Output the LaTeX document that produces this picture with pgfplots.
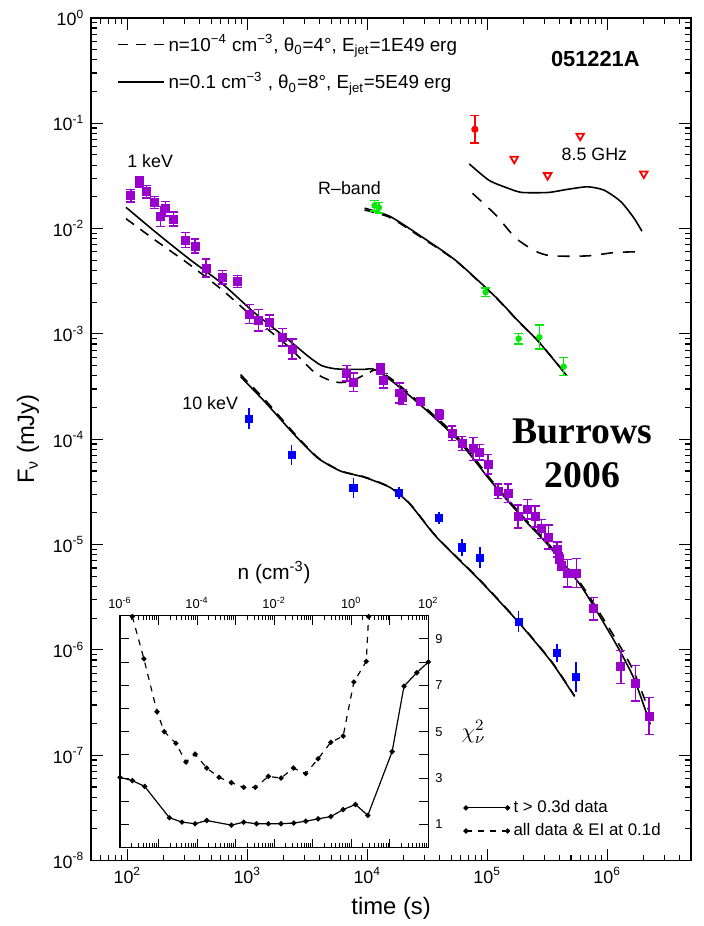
\documentclass[border=0pt]{standalone}
\usepackage{pgfplots}
\pgfplotsset{compat=1.18}
\usepackage{fontspec}
\setmainfont{Liberation Sans}
\newfontfamily\serifbold{Liberation Serif}
\definecolor{xpurple}{RGB}{153,0,204}
\definecolor{xblue}{RGB}{0,0,255}
\definecolor{xgreen}{RGB}{0,235,0}
\definecolor{xred}{RGB}{255,0,0}
\begin{document}
\begin{tikzpicture}
\begin{axis}[
  name=main,
  scale only axis, width=302.5pt, height=425pt,
  xmode=log, ymode=log,
  xmin=50, xmax=5e6, ymin=1e-8, ymax=1,
  axis line style={line width=0.9pt},
  every tick/.style={black, line width=0.6pt},
  major tick length=6pt, minor tick length=3pt,
  xtick pos=both, ytick pos=both,
  tick label style={font=\fontsize{9}{10}\selectfont},
  log number format basis/.code 2 args={#1\textsuperscript{\pgfmathprintnumber[assume math mode=true,int detect]{#2}}},
  xlabel={time (s)}, ylabel={F\textsubscript{ν} (mJy)},
  label style={font=\fontsize{12}{14}\selectfont},
  legend style={at={(0.033,0.99)}, anchor=north west, draw=none, fill=none,
    font=\fontsize{9.5}{11}\selectfont, row sep=5pt},
  legend cell align=left,
  legend image code/.code={\draw[#1] (0pt,0pt) -- (23pt,0pt);},
]
% ---- 1 keV models (legend) ----
\addplot[black, line width=0.8pt, dash pattern=on 5pt off 4pt, smooth, tension=0.4] table {
97.5 0.0124
175 0.0076
330 0.00455
621 0.0026
1167 0.00138
2197 0.00076
3640 0.00043
5000 0.000358
6000 0.000345
7500 0.00036
10000 0.00042
12000 0.000455
16600 0.00036
31200 0.000195
58600 0.0001
110000 0.00004
207000 0.0000175
323000 0.0000102
607000 0.0000042
1140000 0.00000135
1670000 0.00000062
2400000 0.00000021
};
\addlegendentry{n=10\textsuperscript{−4} cm\textsuperscript{−3}, θ\textsubscript{0}=4°, E\textsubscript{jet}=1E49 erg}
\addplot[black, line width=0.8pt, smooth, tension=0.4] table {
97.5 0.0159
175 0.0091
330 0.00511
621 0.00298
1167 0.00156
2197 0.00088
3210 0.000614
4130 0.000502
5320 0.000467
7000 0.000460
9400 0.000460
11400 0.00046
16600 0.000346
31200 0.000188
58600 0.000095
110000 0.0000386
207000 0.0000169
323000 0.00000986
607000 0.00000402
1140000 0.00000123
1670000 0.000000536
2290000 0.000000196
};
\addlegendentry{n=0.1 cm\textsuperscript{−3} , θ\textsubscript{0}=8°, E\textsubscript{jet}=5E49 erg}
% ---- 10 keV models ----
\addplot[forget plot, black, line width=0.8pt, smooth, tension=0.4] table {
879 3.93e-4
1413 2.24e-4
2494 1.09e-4
3874 6.62e-5
6025 4.97e-5
9397 4.36e-5
15560 3.47e-5
22700 2.42e-5
37700 1.18e-5
85700 4.63e-6
183000 1.82e-6
343000 7.69e-7
535000 3.61e-7
};
\addplot[forget plot, black, line width=0.8pt, dash pattern=on 5pt off 4pt, smooth, tension=0.4] table {
879 4.1e-4
1413 2.35e-4
2494 1.12e-4
3874 6.7e-5
6025 5.0e-5
9397 4.4e-5
15560 3.5e-5
22700 2.44e-5
37700 1.19e-5
85700 4.7e-6
183000 1.84e-6
343000 7.8e-7
535000 3.65e-7
};
% ---- R-band models ----
\addplot[forget plot, black, line width=0.8pt, smooth, tension=0.4] table {
9500 0.0156
15560 0.0130
29300 0.00817
55100 0.00494
117500 0.00224
183000 0.00131
267000 0.000849
457000 0.000405
};
\addplot[forget plot, black, line width=0.8pt, dash pattern=on 5pt off 4pt, smooth, tension=0.4] table {
9500 0.0150
15560 0.0127
29300 0.0080
55100 0.00490
117500 0.00222
183000 0.00130
267000 0.00085
457000 0.00041
};
% ---- 8.5 GHz models ----
\addplot[forget plot, black, line width=0.8pt, smooth, tension=0.4] table {
70800 0.0411
103500 0.0287
151000 0.0240
195000 0.0220
323000 0.0220
472000 0.0236
689000 0.0249
945000 0.0231
1300000 0.0180
1670000 0.0126
1950000 0.00944
};
\addplot[forget plot, black, line width=0.8pt, dash pattern=on 6pt off 5pt, smooth, tension=0.4] table {
75400 0.0216
117500 0.0135
172000 0.00817
251000 0.00612
343000 0.0055
689000 0.0055
1140000 0.00591
1910000 0.00604
};
% ---- 1 keV data ----
\addplot[forget plot, only marks, mark=square*, mark size=2pt, color=xpurple,
  error bars/.cd, y dir=both, y explicit relative,
  error bar style={line width=0.7pt, xpurple},
  error mark options={rotate=90, mark size=2.2pt, line width=0.7pt, xpurple}]
  table[x=t, y=f, y error plus expr={10^(\thisrow{d})-1}, y error minus expr={1-10^(-\thisrow{d})}] {
t f d
107 0.0205 0.059
125.5 0.0277 0.047
145 0.0223 0.059
168 0.0177 0.055
189 0.0130 0.094
207 0.0154 0.067
242 0.0123 0.066
304 0.00777 0.073
367 0.00682 0.067
453 0.00422 0.086
621 0.00345 0.066
830 0.00314 0.055
1042 0.00154 0.089
1244 0.00135 0.103
1532 0.00129 0.070
1959 0.00093 0.084
2366 0.000719 0.094
6760 0.000423 0.073
7670 0.000348 0.086
12880 0.000461 0.052
13700 0.000358 0.069
18600 0.000275 0.094
19800 0.000250 0.07
27500 0.000230 0.03
39600 0.000172 0.047
51000 0.000114 0.067
61700 0.0000915 0.067
76400 0.000081 0.109
86700 0.000075 0.072
101600 0.000058 0.094
123000 0.000032 0.069
149000 0.0000307 0.087
181000 0.0000184 0.109
217000 0.0000217 0.094
251000 0.0000184 0.10
285000 0.0000141 0.09
323000 0.0000118 0.114
383000 0.00000897 0.07
397000 0.0000074 0.05
416000 0.00000641 0.05
466000 0.00000535 0.13
552000 0.00000535 0.137
767000 0.00000246 0.106
1300000 0.00000069 0.156
1720000 0.000000482 0.169
2240000 0.000000235 0.175
};
% ---- 10 keV data ----
\addplot[forget plot, only marks, mark=square*, mark size=1.8pt, color=xblue,
  error bars/.cd, y dir=both, y explicit relative, error mark=none,
  error bar style={line width=0.8pt, xblue}]
  table[x=t, y=f, y error plus expr={10^(\thisrow{d})-1}, y error minus expr={1-10^(-\thisrow{d})}] {
t f d
1028 1.57e-4 0.098
2339 7.11e-5 0.097
7670 3.42e-5 0.094
18300 3.11e-5 0.058
39600 1.79e-5 0.058
61700 9.4e-6 0.078
87300 7.5e-6 0.10
183000 1.85e-6 0.10
383000 9.3e-7 0.084
552000 5.5e-7 0.14
};
% ---- R-band data ----
\addplot[forget plot, only marks, mark=*, mark size=1.4pt, color=xgreen,
  error bars/.cd, y dir=both, y explicit relative,
  error bar style={line width=0.7pt, xgreen},
  error mark options={rotate=90, mark size=2.2pt, line width=0.7pt, xgreen}]
  table[x=t, y=f, y error plus expr={10^(\thisrow{d})-1}, y error minus expr={1-10^(-\thisrow{d})}] {
t f d
11500 0.0165 0.05
12500 0.0158 0.05
97000 0.00249 0.04
183000 0.00090 0.052
272000 0.00093 0.114
434000 0.000488 0.086
};
% ---- 8.5 GHz data ----
\addplot[forget plot, only marks, mark=*, mark size=1.6pt, color=xred,
  error bars/.cd, y dir=both, y explicit relative,
  error bar style={line width=0.7pt, xred},
  error mark options={rotate=90, mark size=2.2pt, line width=0.7pt, xred}]
  table[x=t, y=f, y error plus expr={10^(\thisrow{d})-1}, y error minus expr={1-10^(-\thisrow{d})}] {
t f d
78900 0.0875 0.13
};
\addplot[forget plot, only marks, mark=triangle, mark size=2.2pt, color=xred,
  mark options={rotate=180, fill=white, line width=0.9pt}] table {
168000 0.0458
319000 0.032
596000 0.0757
2020000 0.0332
};
% ---- labels ----
\node[font=\fontsize{9}{10}\selectfont] at (axis cs:155,0.0432) {1 keV};
\node[font=\fontsize{9}{10}\selectfont, anchor=west, inner sep=0pt] at (axis cs:3874,0.024) {R–band};
\node[font=\fontsize{9}{10}\selectfont] at (axis cs:491,2.18e-4) {10 keV};
\node[font=\fontsize{9}{10}\selectfont] at (axis cs:7.82e5,0.0503) {8.5 GHz};
\node[font=\bfseries\fontsize{11}{12}\selectfont] at (axis cs:7.96e5,0.403) {051221A};
\node[font=\serifbold\bfseries\fontsize{19}{22}\selectfont] at (axis cs:6.22e5,1.19e-4) {Burrows};
\node[font=\serifbold\bfseries\fontsize{19}{22}\selectfont] at (axis cs:6.22e5,4.58e-5) {2006};
\coordinate (insetSW) at (rel axis cs:0.048,0.0153);
\end{axis}
\begin{axis}[
  at={(insetSW)}, anchor=south west,
  scale only axis, width=155.5pt, height=117pt,
  xmode=log, xmin=1e-6, xmax=100, ymin=0, ymax=10,
  axis background/.style={fill=white},
  axis line style={line width=0.8pt},
  every tick/.style={black, line width=0.5pt},
  major tick length=4.5pt, minor tick length=2.2pt,
  xtick pos=both, ytick pos=both,
  xticklabel pos=right, yticklabel pos=right,
  xtick={1e-6,1e-5,1e-4,1e-3,1e-2,1e-1,1,10,100},
  xticklabels={{10\textsuperscript{-6}},{},{10\textsuperscript{-4}},{},{10\textsuperscript{-2}},{},{10\textsuperscript{0}},{},{10\textsuperscript{2}}},
  minor xtick={2e-6,3e-6,4e-6,5e-6,6e-6,7e-6,8e-6,9e-6,
    2e-5,3e-5,4e-5,5e-5,6e-5,7e-5,8e-5,9e-5,
    2e-4,3e-4,4e-4,5e-4,6e-4,7e-4,8e-4,9e-4,
    2e-3,3e-3,4e-3,5e-3,6e-3,7e-3,8e-3,9e-3,
    0.02,0.03,0.04,0.05,0.06,0.07,0.08,0.09,
    0.2,0.3,0.4,0.5,0.6,0.7,0.8,0.9,
    2,3,4,5,6,7,8,9,
    20,30,40,50,60,70,80,90},
  ytick={0,1,2,3,4,5,6,7,8,9,10},
  yticklabels={{},1,{},3,{},5,{},7,{},9,{}},
  tick label style={font=\fontsize{6.5}{7}\selectfont},
  xlabel={n (cm\textsuperscript{-3})},
  xlabel style={font=\fontsize{10.5}{12}\selectfont},
  ylabel={\(\chi^{2}_{\nu}\)},
  ylabel style={font=\fontsize{11}{12}\selectfont, rotate=-90, at={(axis description cs:1.085,0.5)}, anchor=west},
  legend style={at={(1.095,0.24)}, anchor=north west, draw=none, fill=none,
    font=\fontsize{8.5}{10}\selectfont, row sep=0pt},
  legend cell align=left,
  legend image code/.code={\draw[#1] plot coordinates {(0pt,0pt) (21pt,0pt)};},
]
\addplot[black, line width=0.6pt, mark=*, mark size=1pt] table {
1e-6 3.03
2.09e-6 2.89
4.37e-6 2.64
1.91e-5 1.29
4.07e-5 1.10
8.9e-5 1.03
1.78e-4 1.17
7.76e-4 0.97
1.62e-3 1.10
3.47e-3 1.03
7.08e-3 1.03
1.51e-2 1.03
3.24e-2 1.06
6.61e-2 1.14
0.138 1.24
0.295 1.34
0.617 1.64
1.29 1.86
2.69 1.39
11.5 4.14
23.4 6.96
50.1 7.54
100 8.0
};
\addlegendentry{t > 0.3d data}
\addplot[black, line width=0.6pt, dash pattern=on 3pt off 3pt, mark=*, mark size=1pt, mark options={solid}] table {
2.09e-6 9.96
4.17e-6 8.14
9.12e-6 5.86
1.41e-5 5.0
2.82e-5 4.5
5.13e-5 3.69
8.91e-5 4.03
1.78e-4 3.43
3.72e-4 3.03
7.76e-4 2.8
1.62e-3 2.6
3.24e-3 2.6
7.08e-3 3.07
1.51e-2 3.0
3.16e-2 3.43
6.61e-2 3.19
0.138 3.83
0.295 4.54
0.617 4.81
1.17 7.14
2.45 8.03
2.82 9.96
};
\addlegendentry{all data \& EI at 0.1d}
\end{axis}
\path ([xshift=-46pt,yshift=-29pt]main.south west) rectangle ([xshift=309pt,yshift=434pt]main.south west);
\end{tikzpicture}
\end{document}
